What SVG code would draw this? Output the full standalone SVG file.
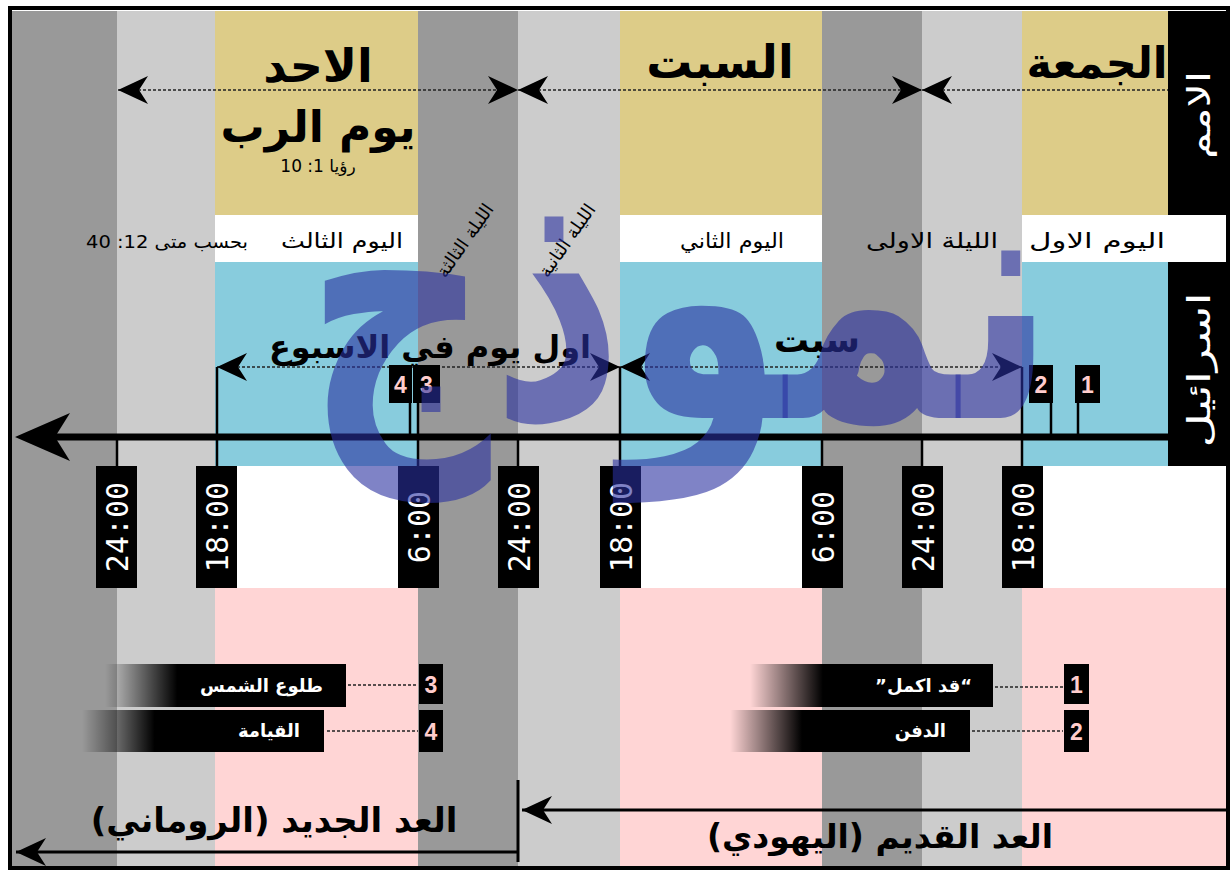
<svg xmlns="http://www.w3.org/2000/svg" width="1231" height="872" viewBox="0 0 1231 872">
<style>
.ar{font-family:'DejaVu Sans','Noto Sans',sans-serif;direction:rtl;unicode-bidi:embed}
.big{font-size:46px;font-weight:bold;fill:#000}
.day{font-size:21px;fill:#000}
.mid{font-size:32px;font-weight:bold;fill:#000}
.side{font-size:32px;fill:#fff}
.clk{font-family:'DejaVu Sans Mono','Liberation Mono',monospace;font-size:30px;fill:#fff}
.num{font-family:'Liberation Sans','DejaVu Sans',sans-serif;font-size:23px;font-weight:bold;fill:#ffcccc}
.leg{font-size:18px;font-weight:bold;fill:#fff}
.dot{stroke:#222;stroke-width:1.3;stroke-dasharray:3 2;fill:none}
.tick{stroke:#000;stroke-width:2.5}
.bold{stroke:#000;stroke-width:3;fill:none}
</style>
<defs>
<marker id="barb" viewBox="0 0 30 28" refX="30" refY="14" markerWidth="30" markerHeight="28" markerUnits="userSpaceOnUse" orient="auto-start-reverse">
<path d="M0,0 L30,14 L0,28 L9,14 Z" fill="#000"/>
</marker>
<linearGradient id="fade" x1="0" y1="0" x2="1" y2="0">
<stop offset="0" stop-color="#000" stop-opacity="0"/>
<stop offset="0.3" stop-color="#000" stop-opacity="1"/>
<stop offset="1" stop-color="#000" stop-opacity="1"/>
</linearGradient>
</defs>

<g id="background">
<rect x="0" y="0" width="1231" height="872" fill="#ffffff"/>
<rect x="12" y="11" width="105" height="856" fill="#999999"/>
<rect x="117" y="11" width="98" height="856" fill="#cccccc"/>
<rect x="418" y="11" width="100" height="856" fill="#999999"/>
<rect x="518" y="11" width="102" height="856" fill="#cccccc"/>
<rect x="822" y="11" width="100" height="856" fill="#999999"/>
<rect x="922" y="11" width="100" height="856" fill="#cccccc"/>
<g fill="#ddcc88">
<rect x="215" y="11" width="203" height="204"/>
<rect x="620" y="11" width="202" height="204"/>
<rect x="1022" y="11" width="146" height="204"/>
</g>
<g fill="#ffffff">
<rect x="215" y="215" width="203" height="47"/>
<rect x="620" y="215" width="202" height="47"/>
<rect x="1022" y="215" width="206" height="47"/>
<rect x="215" y="466" width="203" height="122"/>
<rect x="620" y="466" width="202" height="122"/>
<rect x="1022" y="466" width="206" height="122"/>
</g>
<g fill="#88ccdd">
<rect x="215" y="262" width="203" height="204"/>
<rect x="620" y="262" width="202" height="204"/>
<rect x="1022" y="262" width="146" height="204"/>
</g>
<g fill="#ffd5d5">
<rect x="215" y="588" width="203" height="279"/>
<rect x="620" y="588" width="202" height="279"/>
<rect x="1022" y="588" width="206" height="279"/>
</g>
<rect x="1168" y="11" width="60" height="204" fill="#000"/>
<rect x="1168" y="262" width="60" height="204" fill="#000"/>
</g>

<g id="connectors">
<line class="dot" x1="118" y1="90" x2="518" y2="90" marker-start="url(#barb)" marker-end="url(#barb)"/>
<line class="dot" x1="518" y1="90" x2="922" y2="90" marker-start="url(#barb)" marker-end="url(#barb)"/>
<line class="dot" x1="922" y1="90" x2="1168" y2="90" marker-start="url(#barb)"/>
<line class="dot" x1="217" y1="367" x2="620" y2="367" marker-start="url(#barb)" marker-end="url(#barb)"/>
<line class="dot" x1="620" y1="367" x2="1022" y2="367" marker-start="url(#barb)" marker-end="url(#barb)"/>
<line x1="50" y1="437" x2="1168" y2="437" stroke="#000" stroke-width="7"/>
<path d="M15,437 L70,413 L55,437 L70,461 Z" fill="#000"/>
<line class="tick" x1="117" y1="437" x2="117" y2="467"/>
<line class="tick" x1="217" y1="367" x2="217" y2="467"/>
<line class="tick" x1="418" y1="402" x2="418" y2="467"/>
<line class="tick" x1="518" y1="437" x2="518" y2="467"/>
<line class="tick" x1="620" y1="367" x2="620" y2="467"/>
<line class="tick" x1="822" y1="437" x2="822" y2="467"/>
<line class="tick" x1="922" y1="437" x2="922" y2="467"/>
<line class="tick" x1="1022" y1="367" x2="1022" y2="467"/>
<line class="tick" x1="410" y1="402" x2="410" y2="437"/>
<line class="tick" x1="1051" y1="402" x2="1051" y2="437"/>
<line class="tick" x1="1078" y1="402" x2="1078" y2="437"/>
<line class="dot" x1="348" y1="685" x2="418" y2="685" stroke-dasharray="2 2"/>
<line class="dot" x1="327" y1="731" x2="418" y2="731" stroke-dasharray="2 2"/>
<line class="dot" x1="995" y1="687" x2="1063" y2="687" stroke-dasharray="2 2"/>
<line class="dot" x1="972" y1="731" x2="1063" y2="731" stroke-dasharray="2 2"/>
<line class="bold" x1="518" y1="780" x2="518" y2="862"/>
<line class="bold" x1="1228" y1="810" x2="522" y2="810" marker-end="url(#barb)"/>
<line class="bold" x1="518" y1="852" x2="16" y2="852" marker-end="url(#barb)"/>
</g>

<g id="header-nations">
<text class="ar big" x="1097" y="78" text-anchor="middle" style="font-size:43px">الجمعة</text>
<text class="ar big" x="720" y="78" text-anchor="middle">السبت</text>
<text class="ar big" x="318" y="82" text-anchor="middle">الاحد</text>
<text class="ar big" x="318" y="142" text-anchor="middle" style="font-size:44px">يوم الرب</text>
<text class="ar" x="318" y="172" text-anchor="middle" style="font-size:17px" fill="#000">رؤيا 1: 10</text>
</g>

<g id="side-labels">
<text class="ar side" transform="translate(1210,115) rotate(-90)" text-anchor="middle" textLength="88" lengthAdjust="spacingAndGlyphs">الامم</text>
<text class="ar side" transform="translate(1210,370) rotate(-90)" text-anchor="middle" textLength="155" lengthAdjust="spacingAndGlyphs">اسرائيل</text>
</g>

<g id="day-labels">
<text class="ar day" x="1097" y="248" text-anchor="middle" textLength="136" lengthAdjust="spacingAndGlyphs">اليوم الاول</text>
<text class="ar day" x="932" y="248" text-anchor="middle" textLength="132" lengthAdjust="spacingAndGlyphs">الليلة الاولى</text>
<text class="ar day" x="732" y="248" text-anchor="middle" textLength="104" lengthAdjust="spacingAndGlyphs">اليوم الثاني</text>
<text class="ar day" transform="translate(572,244) rotate(-55)" text-anchor="middle" style="font-size:18px">الليلة الثانية</text>
<text class="ar day" transform="translate(470,244) rotate(-55)" text-anchor="middle" style="font-size:18px">الليلة الثالثة</text>
<text class="ar day" x="342" y="248" text-anchor="middle" textLength="122" lengthAdjust="spacingAndGlyphs">اليوم الثالث</text>
<text class="ar day" x="167" y="248" text-anchor="middle" style="font-size:18px" textLength="162" lengthAdjust="spacingAndGlyphs">بحسب متى 12: 40</text>
</g>

<g id="israel-labels">
<text class="ar mid" x="430" y="358" text-anchor="middle">اول يوم في الاسبوع</text>
<text class="ar mid" x="817" y="352" text-anchor="middle" style="font-size:35px">سبت</text>
</g>

<g id="markers">
<g id="m1"><rect x="1075" y="365" width="25" height="38" fill="#000"/><text class="num" x="1087.5" y="393" text-anchor="middle">1</text></g>
<g id="m2"><rect x="1029" y="365" width="24" height="38" fill="#000"/><text class="num" x="1041" y="393" text-anchor="middle">2</text></g>
<g id="m4"><rect x="389" y="365" width="23" height="38" fill="#000"/><text class="num" x="400.5" y="393" text-anchor="middle">4</text></g>
<g id="m3"><rect x="413" y="365" width="27" height="38" fill="#000"/><text class="num" x="426.5" y="393" text-anchor="middle">3</text></g>
</g>

<g id="clocks">
<g id="c1"><rect x="96" y="466" width="41" height="122" fill="#000"/><text class="clk" transform="translate(128,527) rotate(-90)" text-anchor="middle">24:00</text></g>
<g id="c2"><rect x="196" y="466" width="41" height="122" fill="#000"/><text class="clk" transform="translate(228,527) rotate(-90)" text-anchor="middle">18:00</text></g>
<g id="c3"><rect x="398" y="466" width="41" height="122" fill="#000"/><text class="clk" transform="translate(430,527) rotate(-90)" text-anchor="middle">6:00</text></g>
<g id="c4"><rect x="498" y="466" width="41" height="122" fill="#000"/><text class="clk" transform="translate(530,527) rotate(-90)" text-anchor="middle">24:00</text></g>
<g id="c5"><rect x="600" y="466" width="41" height="122" fill="#000"/><text class="clk" transform="translate(632,527) rotate(-90)" text-anchor="middle">18:00</text></g>
<g id="c6"><rect x="802" y="466" width="41" height="122" fill="#000"/><text class="clk" transform="translate(834,527) rotate(-90)" text-anchor="middle">6:00</text></g>
<g id="c7"><rect x="902" y="466" width="41" height="122" fill="#000"/><text class="clk" transform="translate(934,527) rotate(-90)" text-anchor="middle">24:00</text></g>
<g id="c8"><rect x="1002" y="466" width="41" height="122" fill="#000"/><text class="clk" transform="translate(1034,527) rotate(-90)" text-anchor="middle">18:00</text></g>
</g>

<g id="legend">
<g id="leg1">
<rect x="750" y="664" width="243" height="43" fill="url(#fade)"/>
<text class="ar leg" x="972" y="692" text-anchor="start">“قد اكمل”</text>
<rect x="1064" y="664" width="25" height="40" fill="#000"/><text class="num" x="1076.5" y="693" text-anchor="middle">1</text>
</g>
<g id="leg2">
<rect x="730" y="710" width="240" height="42" fill="url(#fade)"/>
<text class="ar leg" x="946" y="737" text-anchor="start">الدفن</text>
<rect x="1064" y="710" width="25" height="42" fill="#000"/><text class="num" x="1076.5" y="740" text-anchor="middle">2</text>
</g>
<g id="leg3">
<rect x="105" y="664" width="241" height="43" fill="url(#fade)"/>
<text class="ar leg" x="323" y="692" text-anchor="start">طلوع الشمس</text>
<rect x="419" y="664" width="24" height="40" fill="#000"/><text class="num" x="431" y="693" text-anchor="middle">3</text>
</g>
<g id="leg4">
<rect x="82" y="710" width="242" height="42" fill="url(#fade)"/>
<text class="ar leg" x="300" y="737" text-anchor="start">القيامة</text>
<rect x="419" y="710" width="24" height="42" fill="#000"/><text class="num" x="431" y="740" text-anchor="middle">4</text>
</g>
</g>

<g id="eras">
<text class="ar mid" x="274" y="832" text-anchor="middle" style="font-size:34px">العد الجديد (الروماني)</text>
<text class="ar mid" x="880" y="848" text-anchor="middle" style="font-size:33px">العد القديم (اليهودي)</text>
</g>

<g id="watermark">
<text class="ar" transform="translate(680,418) scale(1,1.35)" x="0" y="0" text-anchor="middle" font-size="258" font-weight="bold" fill="#2a30a0" fill-opacity="0.6">نموذج</text>
</g>

<rect id="frame" x="10" y="8" width="1218" height="860" fill="none" stroke="#000" stroke-width="4"/>
</svg>
